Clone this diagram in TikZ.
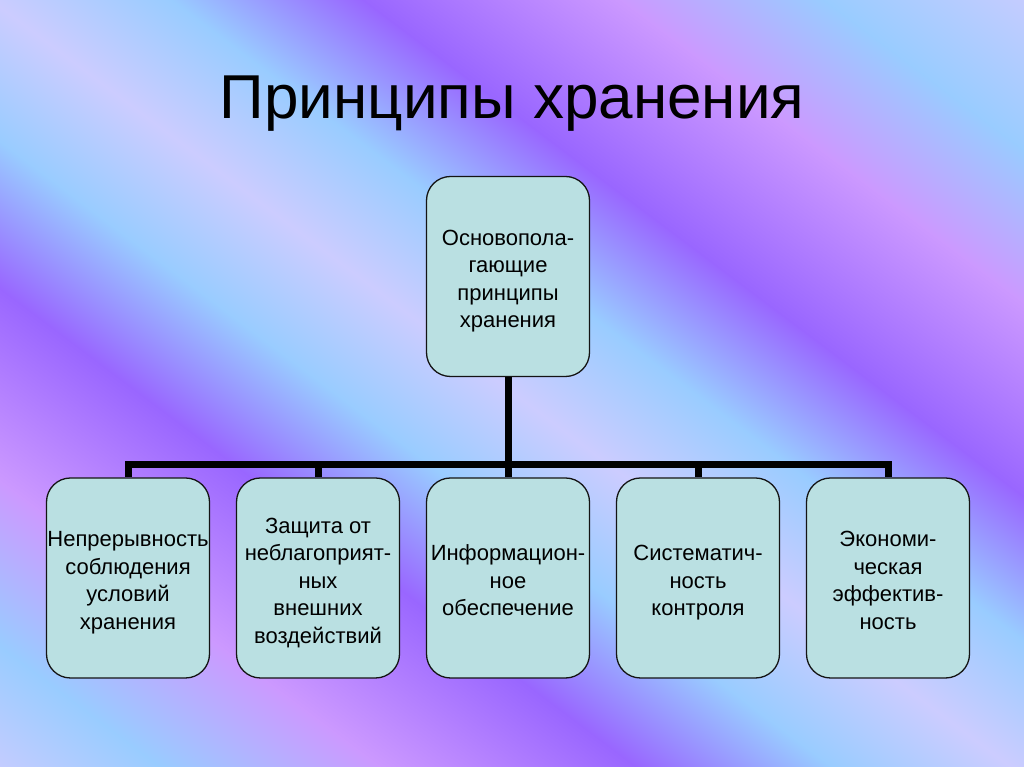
\documentclass[tikz,border=0pt]{standalone}
\usepackage{fontspec}
\setmainfont{Liberation Sans}
\definecolor{bglav}{RGB}{204,204,255}
\definecolor{bglb}{RGB}{153,204,255}
\definecolor{bgpurp}{RGB}{153,102,255}
\definecolor{bgpink}{RGB}{204,153,255}
\definecolor{boxfill}{RGB}{186,224,226}
\newcommand\mytstrut{\rule{0pt}{25pt}}
\newcommand\mybstrut{\rule[-4.5pt]{0pt}{4.5pt}}
\tikzset{
  box/.style={draw=black!92, line width=1.3pt, fill=boxfill, rounded corners=24pt,
    minimum width=163pt, minimum height=200pt, inner sep=0pt, align=center,
    font=\fontsize{22}{27.5}\selectfont},
  conn/.style={line width=7pt, draw=black},
  titletext/.style={font=\fontsize{62}{70}\selectfont, anchor=base},
}
\begin{document}
\begin{tikzpicture}[x=1pt,y=1pt]
\useasboundingbox (0,0) rectangle (1024,767);
% background
\begin{scope}
  \clip (0,0) rectangle (1024,767);
  \begin{scope}[transform canvas={rotate=53.06}]
    \foreach \a/\b/\ca/\cb in {-20/96/bglav/bglb, 96/228/bglb/bgpink, 228/382/bgpink/bgpurp,
      382/499/bgpurp/bglb, 499/607/bglb/bglav, 607/716/bglav/bglb, 716/831/bglb/bgpurp,
      831/986/bgpurp/bgpink, 986/1108/bgpink/bglb, 1108/1250/bglb/bglav}
      \shade[left color=\ca, right color=\cb] (\a,-850) rectangle (\b+1,490);
  \end{scope}
\end{scope}
% title
\node[titletext] (title) at (512,648) {Принципы хранения};
% boxes
\node[box] (top) at (508,490.5) {\mytstrut Основопола-\\гающие\\принципы\\хранения\mybstrut};
\node[box] (b1) at (128,189) {\mytstrut Непрерывность\\соблюдения\\условий\\хранения\mybstrut};
\node[box] (b2) at (318,189) {\mytstrut Защита от\\неблагоприят-\\ных\\внешних\\воздействий\mybstrut};
\node[box] (b3) at (508,189) {\mytstrut Информацион-\\ное\\обеспечение\mybstrut};
\node[box] (b4) at (698,189) {\mytstrut Систематич-\\ность\\контроля\mybstrut};
\node[box] (b5) at (888,189) {\mytstrut Экономи-\\ческая\\эффектив-\\ность\mybstrut};
% connectors
\coordinate (j) at (508,302.5);
\draw[conn] (top.south) -- (j);
\foreach \b in {b1,b2,b3,b4,b5}
  \draw[conn] (j) -| (\b.north);
\end{tikzpicture}
\end{document}
